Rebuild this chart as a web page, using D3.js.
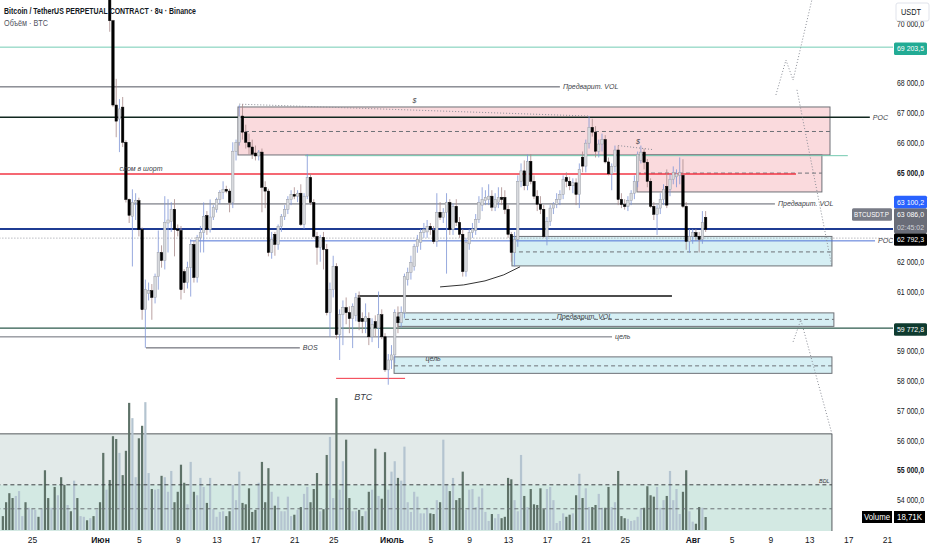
<!DOCTYPE html>
<html>
<head>
<meta charset="utf-8">
<script src="https://cdn.jsdelivr.net/npm/d3@7"></script>
<style>
    body { margin: 0; background: #fff; }
    svg { display: block; font-family: "Liberation Sans", Arial, sans-serif; }
</style>
</head>
<body>
<div id="chart"></div>
<script>
// ---- data (prices of candles in thousands USDT, 8h bars) ----
const firstBar = new Date(2024, 4, 22, 0, 0);
const barHours = 8;

// [open, high, low, close]
const candles = [
    [72.30, 72.50, 71.90, 72.00], [72.00, 72.20, 71.60, 71.70], [71.70, 71.90, 71.20, 71.40], [71.40, 71.60, 71.00, 71.20],
    [71.20, 71.70, 71.10, 71.60], [71.60, 72.10, 71.50, 71.90], [71.90, 72.10, 71.80, 72.00], [72.00, 72.10, 71.60, 71.70],
    [71.70, 72.00, 71.60, 71.90], [71.90, 72.20, 71.80, 72.10], [72.10, 72.30, 71.90, 72.20], [72.20, 72.30, 71.90, 72.00],
    [72.00, 72.30, 71.90, 72.20], [72.20, 72.30, 71.40, 71.50], [71.50, 71.70, 71.20, 71.30], [71.30, 71.70, 71.20, 71.60],
    [71.60, 71.80, 71.10, 71.20], [71.20, 71.70, 71.10, 71.50], [71.50, 71.60, 71.00, 71.10], [71.10, 71.30, 70.95, 71.05],
    [71.05, 71.50, 71.00, 71.40], [71.40, 71.50, 71.10, 71.20], [71.20, 71.80, 71.10, 71.70], [71.70, 71.80, 71.30, 71.40],
    [71.40, 71.60, 71.30, 71.50], [71.50, 71.70, 71.40, 71.60], [71.60, 71.70, 71.40, 71.50], [71.50, 71.70, 71.40, 71.60],
    [71.60, 71.70, 71.40, 71.50], [71.50, 71.80, 71.40, 71.70], [71.70, 71.80, 71.30, 71.40], [71.40, 71.50, 71.00, 71.10],
    [71.10, 71.60, 70.95, 71.40], [71.40, 71.50, 69.72, 70.09], [70.09, 70.12, 67.19, 67.26], [67.26, 68.14, 66.18, 66.72],
    [66.79, 67.46, 65.68, 67.13], [67.19, 67.53, 65.85, 66.01], [66.01, 66.08, 63.99, 64.09], [64.09, 64.12, 63.30, 63.56],
    [63.52, 64.43, 61.84, 63.99], [63.99, 64.30, 63.40, 64.05], [64.05, 64.15, 62.85, 63.08], [63.08, 63.15, 60.05, 60.39],
    [60.39, 61.40, 59.11, 61.06], [60.93, 61.30, 60.70, 61.03], [61.03, 61.25, 60.05, 60.80], [60.80, 61.60, 60.60, 61.50],
    [61.50, 63.05, 61.06, 62.31], [62.31, 62.55, 61.80, 62.04], [62.04, 64.20, 61.74, 63.32], [63.30, 64.10, 62.31, 63.40],
    [63.35, 64.00, 63.00, 63.76], [63.76, 64.10, 62.18, 63.08], [63.10, 63.25, 62.85, 63.05], [63.05, 63.20, 60.73, 61.06],
    [61.67, 61.75, 60.95, 61.30], [61.30, 62.00, 61.10, 61.80], [61.80, 62.75, 60.83, 62.58], [62.58, 62.70, 61.30, 61.47],
    [61.47, 62.90, 61.30, 62.82], [62.80, 63.20, 62.31, 62.98], [62.98, 63.99, 62.31, 63.52], [63.55, 63.70, 62.90, 63.08],
    [63.08, 64.09, 62.98, 63.50], [63.50, 63.90, 63.40, 63.83], [63.76, 64.15, 63.65, 64.09], [64.09, 64.40, 63.95, 64.33],
    [64.33, 64.70, 64.10, 64.43], [64.43, 64.55, 64.30, 64.37], [64.37, 64.45, 63.66, 63.99], [63.99, 66.01, 63.80, 65.71],
    [65.71, 66.10, 65.40, 66.01], [66.01, 67.26, 65.90, 66.89], [66.89, 67.29, 66.10, 66.35], [66.35, 66.60, 65.80, 66.01],
    [66.01, 66.30, 65.60, 65.85], [65.85, 66.10, 65.45, 65.61], [65.65, 65.90, 65.40, 65.55], [65.55, 65.75, 65.40, 65.68],
    [65.68, 65.80, 63.66, 64.50], [64.50, 64.70, 63.80, 64.37], [64.37, 64.45, 62.18, 62.31], [62.31, 63.00, 62.10, 62.75],
    [62.92, 63.00, 62.20, 62.58], [62.58, 63.25, 62.40, 63.19], [63.19, 63.60, 63.00, 63.52], [63.52, 63.90, 63.40, 63.76],
    [63.76, 64.20, 63.60, 64.09], [64.09, 64.40, 63.90, 64.26], [64.26, 64.50, 64.10, 64.20], [64.20, 64.40, 64.00, 64.30],
    [64.30, 64.60, 63.20, 63.25], [63.25, 64.30, 63.10, 64.20], [64.20, 65.61, 64.10, 64.83], [64.83, 64.95, 63.90, 63.99],
    [63.99, 64.10, 62.80, 62.85], [62.85, 63.00, 61.90, 62.48], [62.48, 62.90, 62.00, 62.82], [62.82, 63.00, 61.74, 62.41],
    [62.41, 62.60, 60.20, 60.29], [60.29, 61.30, 59.48, 61.06], [61.06, 62.20, 60.80, 61.84], [61.84, 61.95, 59.40, 59.55],
    [59.55, 60.40, 58.70, 60.22], [60.22, 60.70, 59.20, 60.46], [60.46, 60.80, 59.90, 60.29], [60.29, 60.50, 59.60, 60.09],
    [60.09, 60.60, 59.10, 60.50], [60.20, 60.95, 60.00, 60.79], [60.79, 61.00, 59.70, 59.99], [60.10, 60.30, 59.60, 59.99],
    [59.99, 60.60, 59.60, 60.15], [60.10, 60.30, 59.20, 59.48], [59.48, 60.10, 59.30, 59.90], [59.99, 60.20, 59.50, 59.78],
    [59.78, 61.00, 59.10, 60.22], [60.22, 60.40, 59.40, 59.48], [59.48, 59.60, 58.30, 58.37], [58.37, 58.90, 57.87, 58.70],
    [58.70, 59.20, 58.40, 58.87], [58.87, 60.40, 58.60, 60.29], [60.15, 60.50, 59.60, 59.95], [59.95, 60.50, 59.80, 60.29],
    [60.29, 61.60, 60.10, 61.50], [61.40, 61.80, 61.20, 61.64], [61.64, 62.20, 61.40, 61.97], [61.84, 62.60, 61.70, 62.51],
    [62.51, 62.90, 62.30, 62.75], [62.65, 63.10, 62.40, 62.98], [62.98, 63.30, 62.80, 63.08], [63.00, 63.40, 62.80, 63.19],
    [63.19, 63.30, 62.90, 63.08], [63.05, 63.20, 62.60, 62.68], [62.68, 64.30, 62.50, 63.66], [63.66, 64.00, 63.40, 63.49],
    [63.49, 63.80, 63.30, 63.66], [63.66, 64.30, 61.60, 63.99], [63.99, 64.10, 62.90, 63.08], [63.08, 63.95, 62.90, 63.86],
    [63.86, 64.10, 63.20, 63.32], [63.32, 63.50, 62.80, 62.92], [62.92, 63.10, 61.50, 61.67], [61.67, 62.80, 61.50, 62.65],
    [62.60, 63.10, 62.40, 62.98], [62.98, 63.30, 62.80, 63.10], [63.05, 63.60, 62.90, 63.42], [63.42, 64.20, 63.30, 63.99],
    [63.90, 64.50, 63.70, 64.09], [64.05, 64.40, 63.90, 64.16], [64.09, 64.60, 63.90, 64.20], [64.20, 64.40, 63.70, 63.83],
    [63.83, 64.30, 63.70, 64.09], [64.00, 64.50, 63.80, 64.16], [64.16, 64.50, 63.90, 64.09], [64.16, 64.40, 63.60, 63.76],
    [63.76, 63.90, 62.80, 62.92], [62.92, 63.00, 62.00, 62.31], [62.31, 63.00, 61.84, 62.75], [62.75, 64.90, 62.50, 64.70],
    [64.70, 65.30, 64.50, 65.05], [65.05, 65.40, 64.40, 64.55], [64.55, 65.60, 64.40, 65.37], [65.37, 65.61, 64.60, 64.70],
    [64.70, 64.90, 64.10, 64.20], [64.20, 64.40, 63.70, 63.93], [63.93, 64.20, 63.60, 63.76], [63.76, 63.90, 62.80, 62.85],
    [62.85, 63.50, 62.55, 63.35], [63.35, 63.90, 63.20, 63.80], [63.80, 64.00, 63.60, 63.93], [63.93, 64.30, 63.80, 64.09],
    [64.09, 64.40, 63.90, 64.26], [64.26, 64.90, 64.10, 64.77], [64.83, 65.00, 64.50, 64.70], [64.70, 64.85, 64.40, 64.55],
    [64.55, 64.80, 64.30, 64.65], [64.65, 64.80, 63.90, 64.26], [64.26, 65.30, 63.80, 65.10], [65.51, 65.70, 65.00, 65.21],
    [65.21, 66.10, 65.00, 65.98], [65.98, 66.89, 65.80, 66.51], [66.51, 66.80, 66.20, 66.35], [66.35, 66.55, 65.50, 65.71],
    [65.71, 66.10, 65.50, 65.95], [65.95, 66.30, 65.70, 66.10], [66.10, 66.25, 65.30, 65.35], [65.35, 65.50, 64.90, 64.95],
    [64.95, 65.30, 64.40, 65.20], [65.20, 65.90, 65.00, 65.75], [65.75, 65.90, 63.90, 64.09], [64.09, 64.30, 63.80, 63.92],
    [63.92, 64.10, 63.75, 63.85], [63.85, 64.20, 63.70, 64.05], [64.05, 64.40, 63.90, 64.30], [64.30, 64.90, 64.10, 64.70],
    [64.70, 65.70, 64.50, 65.61], [65.40, 65.90, 65.30, 65.68], [65.68, 65.80, 65.10, 65.34], [65.34, 65.45, 64.50, 64.70],
    [64.70, 64.80, 63.80, 63.86], [63.86, 64.00, 63.40, 63.59], [63.59, 63.90, 62.90, 63.80], [63.80, 64.30, 63.60, 64.09],
    [64.09, 64.60, 63.90, 64.43], [64.53, 65.10, 63.80, 63.90], [64.43, 64.95, 64.20, 64.77], [64.77, 65.20, 64.60, 65.00],
    [64.85, 65.10, 64.50, 64.95], [64.90, 65.50, 64.60, 65.00], [64.90, 65.44, 63.80, 63.86], [63.86, 64.00, 62.40, 62.68],
    [62.68, 63.10, 62.30, 62.85], [62.85, 63.10, 62.60, 62.98], [62.98, 63.10, 62.70, 62.85], [62.85, 63.00, 62.31, 62.75],
    [62.75, 63.70, 62.60, 63.32], [63.49, 63.70, 63.00, 63.086]
];

// volume per bar, thousands BTC
const volumes = [
    20, 40, 53, 46, 49, 56, 20, 40, 32, 30, 29, 19, 30, 86, 46, 32, 62, 50, 76, 65,
    36, 27, 71, 46, 20, 19, 14, 17, 20, 29, 40, 111, 58, 72, 135, 131, 111, 79, 114, 183,
    161, 76, 132, 150, 184, 82, 59, 58, 59, 78, 76, 55, 85, 40, 55, 94, 68, 37, 98, 55,
    50, 75, 62, 39, 75, 30, 19, 26, 27, 20, 27, 65, 43, 84, 39, 37, 60, 26, 29, 68,
    98, 40, 89, 55, 35, 48, 27, 27, 48, 20, 22, 29, 33, 52, 62, 40, 59, 82, 27, 30,
    108, 134, 46, 190, 58, 99, 130, 46, 27, 27, 29, 20, 27, 55, 58, 117, 49, 45, 112, 58,
    84, 99, 75, 71, 120, 40, 26, 55, 48, 24, 24, 32, 24, 23, 43, 40, 130, 66, 56, 75,
    43, 46, 84, 29, 58, 59, 33, 48, 60, 26, 13, 23, 17, 23, 17, 19, 75, 73, 43, 27,
    108, 49, 33, 59, 37, 36, 60, 30, 59, 62, 43, 10, 13, 24, 19, 22, 24, 50, 81, 46,
    60, 33, 33, 36, 52, 32, 32, 62, 33, 40, 85, 20, 17, 16, 13, 14, 19, 30, 32, 63,
    50, 48, 62, 32, 43, 49, 85, 43, 59, 23, 55, 86, 27, 12, 9, 33, 32, 18.71
];

const priceTicks = d3.range(54000, 70001, 1000);
const timeTicks = ["2024-05-25", "2024-06-01", "2024-06-05", "2024-06-09", "2024-06-13", "2024-06-17",
    "2024-06-21", "2024-06-25", "2024-07-01", "2024-07-05", "2024-07-09", "2024-07-13", "2024-07-17",
    "2024-07-21", "2024-07-25", "2024-08-01", "2024-08-05", "2024-08-09", "2024-08-13", "2024-08-17", "2024-08-21"];
const monthNames = { 5: "Июн", 6: "Июль", 7: "Авг" };

// drawn levels: price, from/to in bar index
const levels = [
    { price: 69203.5, from: -2, to: 280, color: "#74ccb4", width: 1 },
    { price: 67870, from: -2, to: 172, color: "#50535e", width: 1, label: "Предварит. VOL" },
    { price: 66850, from: -2, to: 267.7, color: "#10271f", width: 1.3, label: "POC" },
    { price: 65560, from: 93.3, to: 260.9, color: "#72c9b0", width: 1 },
    { price: 64946, from: -2, to: 244.9, color: "#f23645", width: 1.5 },
    { price: 63940, from: 39.3, to: 238.4, color: "#5d606b", width: 1, label: "Предварит. VOL" },
    { price: 63100.2, from: -2, to: 280, color: "#1f3c93", width: 2 },
    { price: 62792.3, from: -2, to: 280, color: "#9598a1", width: 1, dash: "1,2" },
    { price: 62700, from: 57.8, to: 269.3, color: "#4f72d6", width: 1, label: "POC" },
    { price: 60852, from: 109.6, to: 206.6, color: "#111111", width: 1.5 },
    { price: 59772.8, from: -2, to: 280, color: "#2c5a4c", width: 1.2 },
    { price: 59477, from: -2, to: 188.1, color: "#6b6e78", width: 1, label: "цель" },
    { price: 59107, from: 44.2, to: 91.7, color: "#50535e", width: 1, label: "BOS" },
    { price: 58084, from: 102.9, to: 124.2, color: "#f23645", width: 1 }
];

// boxes: top/bottom price, mid dashed line
const zones = [
    { from: 72.6, to: 255.4, top: 67195, bottom: 65584, mid: 66372, fill: "#fadadd" },
    { from: 195.8, to: 252.9, top: 65584, bottom: 64342, mid: 64975, fill: "#fadadd" },
    { from: 157.2, to: 256, top: 62849, bottom: 61859, mid: 62329, fill: "#d6eff4" },
    { from: 122, to: 256.6, top: 60282, bottom: 59829, mid: 60064, fill: "#d6eff4" },
    { from: 120.8, to: 256, top: 58805, bottom: 58252, mid: 58503, fill: "#d6eff4" }
];

// volume-profile box at the bottom
const profileBox = { from: -2, to: 256, top: 56221, split: 54510, low: 53705, bottom: 52800 };

// dotted paths [barIndex, price]
const dottedPaths = [
    [[73, 67290], [181, 66890]],
    [[190, 65900], [201, 65760]],
    [[238.7, 67600], [241.8, 68770], [244, 68100], [249.8, 70790]],
    [[245.2, 67770], [256, 61830]],
    [[244, 59310], [246.4, 60050], [256, 56220]]
];
const arcPoints = [[135, 61154], [150.4, 61221], [159.7, 61830]];

const notes = [
    { i: 36, price: 65040, text: "слом в шорт" },
    { i: 126.5, price: 67330, text: "$" },
    { i: 195.5, price: 65950, text: "$" },
    { i: 171, price: 60064, text: "Предварит. VOL" },
    { i: 130.5, price: 58671, text: "цель" },
    { i: 108.5, price: 57362, text: "BTC", size: 9 },
    { i: 252, price: 54560, text: "BDL", size: 5.5 }
];

const priceTags = [
    { price: 69203.5, bg: "#22ab94" },
    { price: 63100.2, bg: "#2962ff" },
    { price: 63086.0, bg: "#6a6d78", extra: "02:45:02", name: "BTCUSDT.P" },
    { price: 62792.3, bg: "#000000" },
    { price: 59772.8, bg: "#0f3b2f" }
];

// ---- setup ----
const W = 932, H = 550;
const plotRight = 893, plotBottom = 531;

const svg = d3.select("#chart").append("svg")
    .attr("width", W)
    .attr("height", H);

const x = d3.scaleTime()
    .domain([new Date(2024, 4, 25), new Date(2024, 7, 21)])
    .range([32, 887]);
const y = d3.scaleLinear()
    .domain([54000, 68000])
    .range([500, 83]);
const yVol = d3.scaleLinear()
    .domain([0, 190])
    .range([530, 398]);

const barTime = i => new Date(firstBar.getTime() + i * barHours * 3600 * 1000);
const xi = i => x(barTime(i));
const fmt = p => d3.format(",.1f")(p).replace(/,/g, " ").replace(".", ",");

// the reference font is a narrow one, so squeeze labels to their width
const squeeze = (sel, w) => sel.attr("textLength", w).attr("lengthAdjust", "spacingAndGlyphs");

svg.append("defs").append("clipPath").attr("id", "plot")
    .append("rect").attr("width", plotRight).attr("height", plotBottom);

const g = svg.append("g").attr("clip-path", "url(#plot)");

// ---- volume profile box ----
g.append("rect")
    .attr("x", xi(profileBox.from)).attr("y", y(profileBox.top))
    .attr("width", xi(profileBox.to) - xi(profileBox.from))
    .attr("height", y(profileBox.split) - y(profileBox.top))
    .attr("fill", "#e2eae9");
g.append("rect")
    .attr("x", xi(profileBox.from)).attr("y", y(profileBox.split))
    .attr("width", xi(profileBox.to) - xi(profileBox.from))
    .attr("height", y(profileBox.bottom) - y(profileBox.split))
    .attr("fill", "#d3e9e3");
g.append("path")
    .attr("d", `M${xi(profileBox.from)},${y(profileBox.top)}H${xi(profileBox.to)}V${plotBottom}`)
    .attr("fill", "none").attr("stroke", "#555a5e").attr("stroke-width", 1);

// ---- volume bars ----
g.selectAll("rect.vol")
    .data(volumes)
    .join("rect")
    .attr("class", "vol")
    .attr("x", (d, i) => xi(i) - 1.1)
    .attr("width", 2.2)
    .attr("y", d => yVol(d))
    .attr("height", d => yVol(0) - yVol(d))
    .attr("fill", (d, i) => candles[i][3] < candles[i][0] ? "#5e7268" : "#b4c4d0");

// dashed lines of the profile box go over the bars
[[profileBox.split, "#3d4245"], [profileBox.low, "#6b7276"]].forEach(([p, c]) => {
    g.append("line")
        .attr("x1", xi(profileBox.from)).attr("x2", xi(profileBox.to))
        .attr("y1", y(p)).attr("y2", y(p))
        .attr("stroke", c).attr("stroke-width", 1).attr("stroke-dasharray", "4,3");
});

// ---- zones ----
zones.forEach(z => {
    g.append("rect")
        .attr("x", xi(z.from)).attr("y", y(z.top))
        .attr("width", xi(z.to) - xi(z.from))
        .attr("height", y(z.bottom) - y(z.top))
        .attr("fill", z.fill)
        .attr("stroke", "#6e7177").attr("stroke-width", 1);
    g.append("line")
        .attr("x1", xi(z.from)).attr("x2", xi(z.to))
        .attr("y1", y(z.mid)).attr("y2", y(z.mid))
        .attr("stroke", "#6e7177").attr("stroke-width", 1).attr("stroke-dasharray", "4,3");
});

// ---- horizontal levels ----
levels.forEach(l => {
    g.append("line")
        .attr("x1", xi(l.from)).attr("x2", xi(l.to))
        .attr("y1", y(l.price)).attr("y2", y(l.price))
        .attr("stroke", l.color).attr("stroke-width", l.width)
        .attr("stroke-dasharray", l.dash || null);
    if (l.label) {
        g.append("text")
            .attr("x", xi(l.to) + 3).attr("y", y(l.price))
            .attr("dy", "0.35em")
            .attr("font-size", 7).attr("font-style", "italic")
            .attr("fill", "#3a3d45")
            .text(l.label);
    }
});

// ---- dotted helpers and arc ----
const line = d3.line().x(d => xi(d[0])).y(d => y(d[1]));
dottedPaths.forEach(p => {
    g.append("path")
        .attr("d", line(p))
        .attr("fill", "none").attr("stroke", "#8a8d96")
        .attr("stroke-width", 1).attr("stroke-dasharray", "1,2");
});
g.append("path")
    .attr("d", `M${xi(arcPoints[0][0])},${y(arcPoints[0][1])}Q${xi(arcPoints[1][0])},${y(arcPoints[1][1])} ${xi(arcPoints[2][0])},${y(arcPoints[2][1])}`)
    .attr("fill", "none").attr("stroke", "#333").attr("stroke-width", 1);

// ---- candles ----
const k = 1000;
const cg = g.append("g");
candles.forEach((c, i) => {
    const [o, h, l, cl] = c;
    const up = cl >= o;
    const cx = xi(i);
    cg.append("line")
        .attr("x1", cx).attr("x2", cx)
        .attr("y1", y(h * k)).attr("y2", y(l * k))
        .attr("stroke", up ? "#7d94d6" : "#a88a8a").attr("stroke-width", 0.8);
    const top = y(Math.max(o, cl) * k);
    const bh = Math.max(1, Math.abs(y(o * k) - y(cl * k)));
    cg.append("rect")
        .attr("x", cx - 1.2).attr("width", 2.4)
        .attr("y", top).attr("height", bh)
        .attr("fill", up ? "#d8dade" : "#000")
        .attr("stroke", up ? "#9a9da6" : "#000").attr("stroke-width", 0.5);
});

// ---- notes ----
notes.forEach(n => {
    g.append("text")
        .attr("x", xi(n.i)).attr("y", y(n.price))
        .attr("font-size", n.size || 7).attr("font-style", "italic")
        .attr("fill", "#3a3d45")
        .text(n.text);
});

// ---- price tags, stacked upward when they overlap ----
const tagH = 12.5;
let limit = Infinity;
const tags = priceTags
    .map(t => ({ ...t, lines: t.extra ? [fmt(t.price), t.extra] : [fmt(t.price)] }))
    .sort((a, b) => y(b.price) - y(a.price));
tags.forEach(t => {
    const h = tagH * t.lines.length;
    const cy = Math.min(y(t.price) + 1.5, limit - h / 2);
    t.top = cy - h / 2;
    t.bottom = t.top + h;
    limit = t.top;
});

// ---- price axis (ticks hidden behind a tag are dropped) ----
const covered = p => tags.some(t => y(p) > t.top - 4 && y(p) < t.bottom + 4) || y(p) < 22;
const yAxis = svg.append("g")
    .attr("transform", `translate(${plotRight + 3},0)`)
    .call(d3.axisRight(y).tickValues(priceTicks.filter(p => !covered(p)))
        .tickSize(0).tickPadding(1).tickFormat(fmt));
yAxis.select(".domain").remove();
yAxis.selectAll("text")
    .attr("font-size", 8.5).attr("fill", "#131722")
    .attr("font-family", "'Liberation Sans', sans-serif")
    .attr("font-weight", d => (d === 65000 || d === 55000) ? "bold" : null)
    .call(squeeze, 27);

tags.forEach(t => {
    svg.append("rect")
        .attr("x", plotRight + 1).attr("y", t.top)
        .attr("width", 33).attr("height", t.bottom - t.top)
        .attr("rx", 1.5).attr("fill", t.bg);
    t.lines.forEach((s, j) => {
        svg.append("text")
            .attr("x", plotRight + 4).attr("y", t.top + tagH * j + tagH / 2)
            .attr("dy", "0.33em")
            .attr("font-size", 7.8).attr("fill", j ? "#d0d2d8" : "#fff")
            .text(s)
            .call(squeeze, 27);
    });
    if (t.name) {
        svg.append("rect")
            .attr("x", plotRight - 41).attr("y", t.top)
            .attr("width", 40).attr("height", tagH)
            .attr("rx", 1.5).attr("fill", "#787b86");
        svg.append("text")
            .attr("x", plotRight - 39).attr("y", t.top + tagH / 2)
            .attr("dy", "0.33em")
            .attr("font-size", 7.8).attr("fill", "#fff")
            .text(t.name)
            .call(squeeze, 35);
    }
});

// currency box over the top tick
svg.append("rect")
    .attr("x", plotRight + 3).attr("y", 3)
    .attr("width", 33).attr("height", 18)
    .attr("rx", 2).attr("fill", "#fff").attr("stroke", "#e0e3eb");
svg.append("text")
    .attr("x", plotRight + 8).attr("y", 12).attr("dy", "0.35em")
    .attr("font-size", 8.5).attr("fill", "#131722")
    .text("USDT")
    .call(squeeze, 20);

// volume value tag
const lastVol = volumes[volumes.length - 1];
const vy = yVol(lastVol);
svg.append("rect").attr("x", plotRight - 31).attr("y", vy - 6)
    .attr("width", 30).attr("height", 12).attr("fill", "#000");
svg.append("text").attr("x", plotRight - 29).attr("y", vy).attr("dy", "0.35em")
    .attr("font-size", 8.5).attr("fill", "#fff").text("Volume")
    .call(squeeze, 26);
svg.append("rect").attr("x", plotRight + 1).attr("y", vy - 6)
    .attr("width", 31).attr("height", 12).attr("fill", "#000");
svg.append("text").attr("x", plotRight + 4).attr("y", vy).attr("dy", "0.35em")
    .attr("font-size", 8.5).attr("fill", "#fff")
    .text(d3.format(".2f")(lastVol).replace(".", ",") + "K")
    .call(squeeze, 25);

// ---- time axis ----
const parse = d3.timeParse("%Y-%m-%d");
const tickDates = timeTicks.map(parse);
const xAxis = svg.append("g")
    .attr("transform", `translate(0,${plotBottom + 3})`)
    .call(d3.axisBottom(x).tickValues(tickDates).tickSize(0).tickPadding(3)
        .tickFormat(d => d.getDate() === 1 ? monthNames[d.getMonth()] : d.getDate()));
xAxis.select(".domain").remove();
xAxis.selectAll("text")
    .attr("font-size", 8.5).attr("fill", "#131722")
    .attr("font-family", "'Liberation Sans', sans-serif")
    .attr("font-weight", d => d.getDate() === 1 ? "bold" : null);

// ---- header ----
svg.append("text")
    .attr("x", 4).attr("y", 14)
    .attr("font-size", 8.5).attr("font-weight", "bold").attr("fill", "#131722")
    .text("Bitcoin / TetherUS PERPETUAL CONTRACT · 8ч · Binance")
    .call(squeeze, 192);
svg.append("text")
    .attr("x", 4).attr("y", 26)
    .attr("font-size", 8.5).attr("fill", "#50535e")
    .text("Объём · BTC")
    .call(squeeze, 44);
</script>
</body>
</html>
